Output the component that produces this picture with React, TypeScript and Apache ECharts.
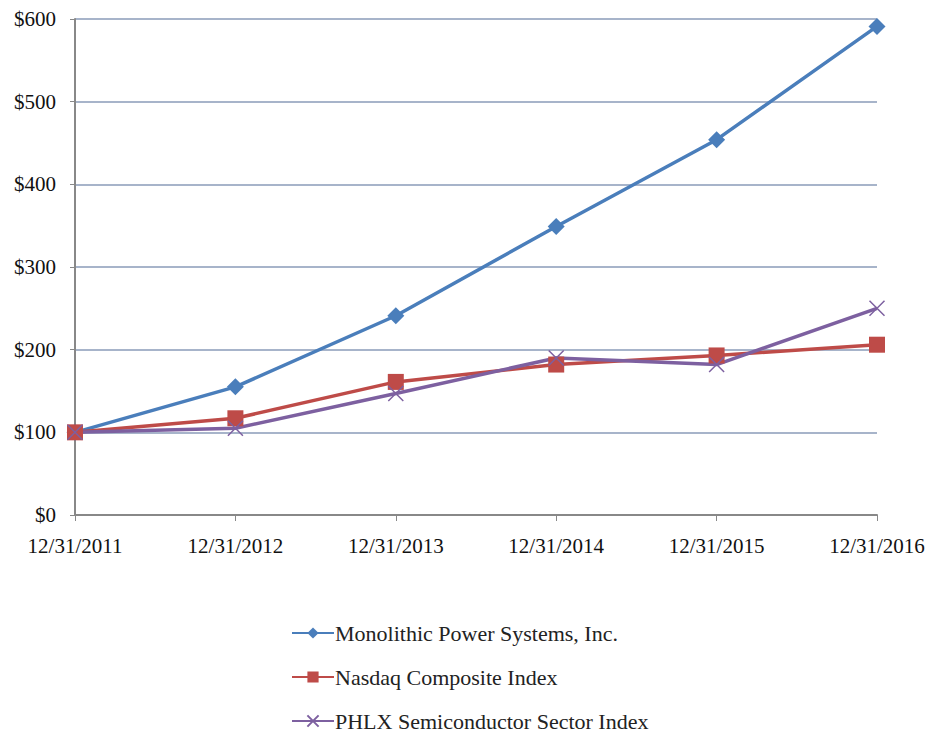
import React, { useEffect, useRef } from "react";
import * as echarts from "echarts";

const categories = ["12/31/2011", "12/31/2012", "12/31/2013", "12/31/2014", "12/31/2015", "12/31/2016"];
const mpsValues = [100, 155, 241, 349, 454, 591];
const nasdaqValues = [100, 117, 161, 182, 193, 206];
const phlxValues = [100, 105, 147, 190, 182, 250];
const seriesNames = ["Monolithic Power Systems, Inc.", "Nasdaq Composite Index", "PHLX Semiconductor Sector Index"];

const FONT = "Liberation Serif";

export default function App() {
  const ref = useRef<HTMLDivElement>(null);
  useEffect(() => {
    if (!ref.current) return;
    const chart = echarts.init(ref.current, null, { renderer: "svg" });
    const xSym = "path://M0,0L10,10M10,0L0,10";
    chart.setOption({
      animation: false,
      backgroundColor: "#ffffff",
      textStyle: { fontFamily: FONT },
      grid: { left: 75, right: 53, top: 19, bottom: 217, containLabel: false },
      xAxis: {
        type: "category",
        data: categories,
        boundaryGap: false,
        axisLine: { lineStyle: { color: "#888888", width: 2 } },
        axisTick: { show: true, alignWithLabel: true, length: 6, lineStyle: { color: "#888888" } },
        axisLabel: { color: "#111", fontFamily: FONT, fontSize: 21, margin: 20, interval: 0 },
        splitLine: { show: false },
      },
      yAxis: {
        type: "value",
        min: 0,
        max: 600,
        interval: 100,
        axisLine: { show: true, lineStyle: { color: "#888888", width: 2 } },
        axisTick: { show: true, length: 5, lineStyle: { color: "#888888" } },
        axisLabel: { color: "#111", fontFamily: FONT, fontSize: 21, margin: 19, formatter: (v: number) => "$" + v },
        splitLine: { show: true, lineStyle: { color: "#8a9bb8", width: 1.5 } },
      },
      legend: {
        orient: "vertical",
        left: 286,
        top: 617,
        height: 114,
        itemGap: 22,
        itemWidth: 42,
        itemHeight: 14,
        textStyle: { color: "#222", fontFamily: FONT, fontSize: 22, padding: [0, 0, 0, -4] },
        data: seriesNames,
      },
      series: [
        { name: seriesNames[0], type: "line", data: mpsValues, symbol: "diamond", symbolSize: 17, lineStyle: { color: "#4a7ebb", width: 3.5 }, itemStyle: { color: "#4a7ebb" } },
        { name: seriesNames[1], type: "line", data: nasdaqValues, symbol: "rect", symbolSize: 16, lineStyle: { color: "#be4b48", width: 3.5 }, itemStyle: { color: "#be4b48" } },
        { name: seriesNames[2], type: "line", data: phlxValues, symbol: xSym, symbolSize: 15, lineStyle: { color: "#7d60a0", width: 3.5 }, itemStyle: { color: "#7d60a0", borderColor: "#7d60a0", borderWidth: 1.5 } },
      ],
    });
    return () => chart.dispose();
  }, []);
  return <div ref={ref} style={{ width: 930, height: 732, position: "absolute", left: 0, top: 0 }} />;
}
